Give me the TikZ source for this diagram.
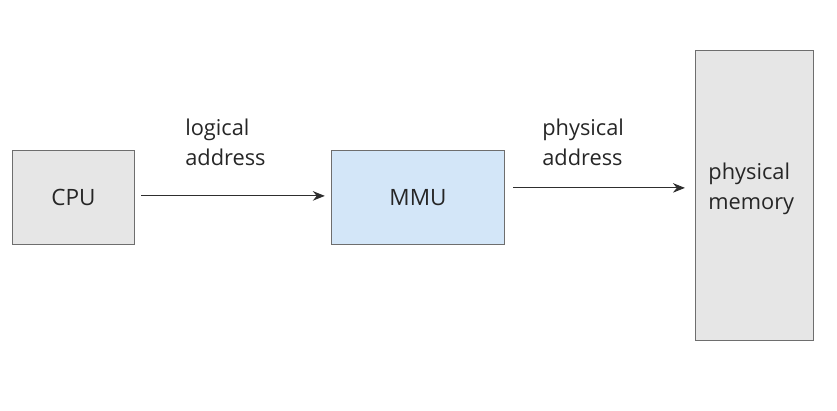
\documentclass[tikz,border=0pt]{standalone}
\usepackage{fontspec}
\setmainfont{Open Sans}
\usetikzlibrary{arrows.meta, positioning}
\definecolor{boxgray}{HTML}{E6E6E6}
\definecolor{boxblue}{HTML}{D3E6F8}
\definecolor{edgegray}{HTML}{6E6E6E}
\definecolor{linedark}{HTML}{2E2E2E}
\tikzset{
	unit/.style={draw=edgegray, line width=0.8pt, align=center, font=\fontsize{16}{21.5}\selectfont,
		inner sep=0pt, text=black!85},
	flow/.style={-{Stealth[length=3mm, width=2.4mm]}, line width=0.75pt, draw=linedark},
	tag/.style={align=left, anchor=west, font=\fontsize{15.5}{21.5}\selectfont, text=black!85, inner sep=0pt}
}

\begin{document}
\begin{tikzpicture}[x=0.025cm, y=-0.025cm]
	\useasboundingbox (0,0) rectangle (837,411);
	\node[unit, fill=boxgray, minimum width=3.05cm, minimum height=2.35cm] (cpu) at (73.5,197.5) {CPU};
	\node[unit, fill=boxblue, minimum width=4.33cm, minimum height=2.35cm] (mmu) at (418,197.5) {MMU};
	\node[unit, fill=boxgray, minimum width=2.95cm, minimum height=7.25cm,
		label={[tag, anchor=center, xshift=-0.08cm, yshift=0.17cm]center:physical\\memory}] (mem) at (754.5,195.5) {};
	% address labels
	\node[tag] (lad) at (185,142) {logical\\address};
	\node[tag] (pad) at (542,142) {physical\\address};
	\draw[flow, shorten <=0.15cm, shorten >=0.15cm] ([yshift=0.04cm]cpu.east) -- ([yshift=0.04cm]mmu.west);
	\draw[flow, shorten <=0.2cm, shorten >=0.25cm] ([yshift=0.24cm]mmu.east) -- ([yshift=0.24cm]mmu.east -| mem.west);
\end{tikzpicture}
\end{document}
